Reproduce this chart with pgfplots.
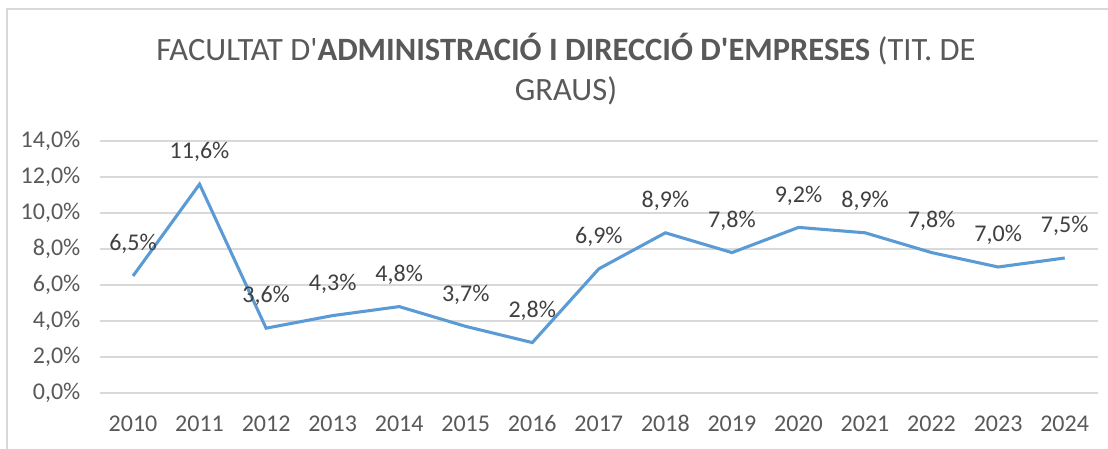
\documentclass[border=0pt]{standalone}
\usepackage{fontspec}
\setmainfont{Carlito}
\usepackage{pgfplots}
\pgfplotsset{compat=1.18}
\definecolor{serie}{HTML}{5B9BD5}
\definecolor{gridc}{HTML}{D9D9D9}
\definecolor{ticktext}{HTML}{595959}
\definecolor{labeltext}{HTML}{404040}

\begin{document}
\begin{tikzpicture}
% fixed frame, 1 px = 0.75pt
\useasboundingbox (-74.8pt,-42pt) rectangle (756.2pt,294.75pt);
\fill[white] (-74.8pt,-42pt) rectangle (756.2pt,294.75pt);
\draw[gridc, line width=1pt] (-69.5pt,-42pt) -- (-69.5pt,288pt) -- (756.2pt,288pt);

\begin{axis}[
  at={(0pt,0pt)}, anchor=south west,
  scale only axis,
  width=748.7pt, height=189pt,
  xmin=2009.5, xmax=2024.5,
  ymin=0, ymax=14,
  xtick={2010,...,2024},
  ytick={0,2,...,14},
  xticklabel style={/pgf/number format/1000 sep={}, anchor=base, yshift=-29pt},
  yticklabel={\pgfmathprintnumber[fixed,fixed zerofill,precision=1,use comma]{\tick}\%},
  yticklabel style={xshift=-11pt},
  /pgf/number format/assume math mode=true,
  tick label style={font=\fontsize{18pt}{20pt}\selectfont, text=ticktext},
  axis line style={draw=none},
  major tick length=0pt,
  xmajorgrids=false,
  ymajorgrids=true,
  major grid style={draw=gridc, line width=0.9pt},
  nodes near coords={\pgfmathprintnumber[fixed,fixed zerofill,precision=1,use comma,assume math mode=true]{\pgfplotspointmeta}\%},
  every node near coord/.append style={anchor=center, yshift=24pt, font=\fontsize{18pt}{20pt}\selectfont, text=labeltext},
  clip=false,
]
\addplot[serie, line width=2.3pt, mark=none] coordinates {
(2010,6.5)
(2011,11.6)
(2012,3.6)
(2013,4.3)
(2014,4.8)
(2015,3.7)
(2016,2.8)
(2017,6.9)
(2018,8.9)
(2019,7.8)
(2020,9.2)
(2021,8.9)
(2022,7.8)
(2023,7.0)
(2024,7.5)
};
\end{axis}

\node[anchor=base, text=ticktext, font=\fontsize{24.4pt}{29pt}\selectfont, inner sep=0pt] at (349.7pt,249pt) {FACULTAT D\textquotesingle\textbf{ADMINISTRACIÓ I DIRECCIÓ D\textquotesingle EMPRESES} (TIT. DE};
\node[anchor=base, text=ticktext, font=\fontsize{24.4pt}{29pt}\selectfont, inner sep=0pt] at (349.7pt,219pt) {GRAUS)};
\end{tikzpicture}
\end{document}
